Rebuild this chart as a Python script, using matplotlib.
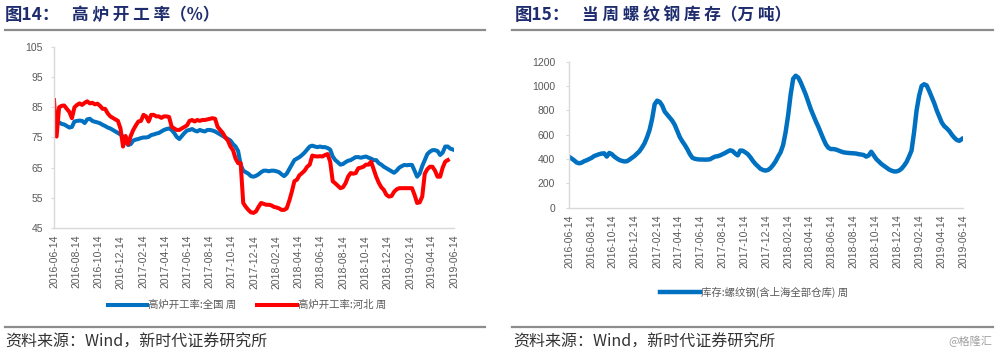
import matplotlib
matplotlib.use("Agg")
import matplotlib.pyplot as plt
from matplotlib.lines import Line2D
import numpy as np
import pandas as pd

plt.rcParams['font.family'] = ['Noto Sans CJK SC', 'DejaVu Sans']

# weekly observations, 2016-06-14 .. 2019-06-11
dates = pd.date_range('2016-06-14', periods=157, freq='7D')

# 高炉开工率:全国 周
rate_national = [
    79.7, 80.0, 80.0, 79.5, 79.3, 78.8, 78.3, 78.5, 80.3, 80.5,
    80.6, 80.5, 79.8, 81.0, 81.2, 80.5, 80.2, 80.0, 79.7, 79.2,
    78.8, 78.3, 78.0, 77.5, 77.0, 76.5, 76.0, 75.3, 73.5, 72.5,
    72.8, 74.0, 74.3, 74.5, 74.8, 75.0, 75.0, 75.2, 75.8, 76.0,
    76.3, 76.5, 77.0, 77.5, 77.8, 78.0, 77.5, 76.5, 75.2, 74.5,
    75.5, 76.5, 77.3, 77.5, 77.8, 77.3, 77.0, 77.5, 77.2, 77.0,
    77.5, 77.5, 77.3, 77.0, 76.5, 76.0, 75.5, 75.0, 74.5, 74.0,
    72.8, 72.0, 70.5, 66.0, 64.0, 63.5, 63.0, 62.2, 62.0, 62.3,
    62.8, 63.5, 64.0, 64.0, 63.8, 64.0, 64.0, 63.8, 63.5, 62.8,
    62.2, 63.0, 64.5, 66.0, 67.5, 68.0, 68.5, 69.2, 70.0, 71.0,
    72.0, 72.3, 72.0, 71.8, 72.0, 71.8, 71.8, 71.5, 71.0, 68.7,
    67.5, 66.8, 66.0, 66.2, 66.8, 67.3, 67.5, 68.0, 68.5, 68.5,
    68.3, 68.5, 68.7, 68.3, 68.0, 67.5, 67.5, 66.5, 66.0, 65.3,
    64.8, 64.3, 63.8, 63.3, 64.0, 65.0, 65.5, 65.9, 65.8, 65.9,
    65.9, 64.0, 62.0, 63.0, 65.5, 67.5, 69.5, 70.3, 70.8, 70.8,
    70.5, 69.2, 70.0, 72.0, 72.0, 71.3, 71.0,
]

# 高炉开工率:河北 周 (last two weeks not yet published)
rate_hebei = [
    87.4, 75.3, 85.0, 85.5, 85.6, 84.5, 83.5, 81.4, 85.0, 85.8,
    86.3, 85.8, 86.5, 87.0, 86.3, 86.5, 86.0, 86.2, 85.5, 84.5,
    84.5, 83.0, 82.0, 81.5, 81.0, 80.5, 78.0, 72.0, 75.5, 72.8,
    75.5, 77.5, 79.0, 80.3, 80.5, 82.5, 82.0, 80.3, 82.5, 82.5,
    82.0, 82.0, 81.5, 82.0, 82.0, 81.8, 78.6, 78.0, 77.5, 77.5,
    78.0, 78.5, 79.0, 80.5, 80.8, 80.3, 80.8, 80.5, 80.8, 80.8,
    81.0, 81.2, 81.4, 81.2, 78.5, 77.5, 76.5, 75.0, 74.0, 72.0,
    70.8, 68.0, 66.5, 66.5, 53.3, 52.0, 51.0, 50.2, 50.0, 50.5,
    52.0, 53.3, 53.0, 52.7, 52.7, 52.5, 52.0, 51.8, 51.5, 51.0,
    51.0, 51.5, 54.0, 57.0, 60.5, 61.0, 62.5, 63.2, 64.0, 65.3,
    66.0, 69.0, 68.8, 68.7, 68.8, 68.7, 69.2, 69.5, 67.0, 60.5,
    59.8, 59.0, 58.2, 58.5, 59.8, 62.0, 63.2, 63.0, 63.2, 64.8,
    65.0, 65.3, 66.0, 66.0, 67.0, 64.5, 62.0, 60.0, 58.5, 57.6,
    56.0, 55.4, 55.6, 57.0, 57.8, 58.2, 58.2, 58.2, 58.2, 58.2,
    58.2, 56.0, 53.3, 53.5, 55.4, 63.0, 64.5, 65.3, 65.3, 64.0,
    62.0, 62.0, 65.0, 67.0, 67.5, np.nan, np.nan,
]

# 库存:螺纹钢(含上海全部仓库) 周, 万吨
rebar_stock = [
    419, 405, 390, 372, 365, 370, 382, 390, 400, 410,
    425, 432, 440, 445, 447, 420, 450, 440, 420, 405,
    392, 385, 380, 382, 395, 410, 425, 445, 465, 495,
    530, 580, 640, 730, 850, 880, 870, 840, 790, 765,
    740, 715, 680, 630, 580, 545, 515, 480, 440, 410,
    402, 398, 396, 396, 395, 396, 398, 410, 420, 423,
    430, 440, 450, 462, 472, 465, 445, 430, 470, 468,
    455, 440, 415, 385, 360, 340, 320, 310, 305, 310,
    325, 350, 380, 420, 455, 515, 620, 760, 930, 1060,
    1085, 1070, 1030, 980, 930, 870, 810, 760, 710, 665,
    615, 565, 520, 492, 482, 482, 478, 470, 462, 455,
    452, 450, 448, 447, 445, 440, 437, 433, 420, 430,
    460, 430, 400, 380, 360, 345, 330, 315, 305, 298,
    298, 305, 320, 345, 375, 420, 470, 620, 800, 920,
    1000, 1015, 1005, 960, 910, 860, 800, 750, 700, 670,
    652, 630, 600, 575, 556, 550, 565,
]

# tick every two months on the 14th
tick_dates = pd.date_range('2016-06-01', '2019-06-01', freq='2MS') + pd.Timedelta(days=13)
tick_labels = [d.strftime('%Y-%m-%d') for d in tick_dates]

BLUE = '#0070C0'
RED = '#FF0000'
AXIS_GRAY = '#D9D9D9'
TEXT_GRAY = '#595959'
TITLE_COLOR = '#1F2D6E'


def style_axes(ax, ypad, xpad):
    for s in ['top', 'right']:
        ax.spines[s].set_visible(False)
    for s in ['left', 'bottom']:
        ax.spines[s].set_color(AXIS_GRAY)
        ax.spines[s].set_linewidth(1.0)
    ax.set_xlim(pd.Timestamp('2016-06-14'), pd.Timestamp('2019-06-14'))
    ax.set_xticks(tick_dates)
    ax.set_xticklabels(tick_labels, rotation=90, fontsize=7.5, color=TEXT_GRAY,
                       family='Liberation Sans')
    ax.tick_params(axis='x', length=0, pad=xpad)
    ax.tick_params(axis='y', length=2, color=AXIS_GRAY, pad=ypad, labelsize=7.5,
                   labelcolor=TEXT_GRAY)
    for t in ax.get_yticklabels():
        t.set_family('Liberation Sans')


fig = plt.figure(figsize=(10, 3.56), dpi=100)

# left: blast furnace utilisation
ax1 = fig.add_axes([0.054, 0.3596, 0.400, 0.5084])
ax1.plot(dates, rate_national, color=BLUE, lw=2.9, label='高炉开工率:全国 周',
         solid_joinstyle='round')
ax1.plot(dates, rate_hebei, color=RED, lw=2.9, label='高炉开工率:河北 周',
         solid_joinstyle='round')
ax1.set_ylim(45, 105)
ax1.set_yticks(np.arange(45, 106, 10))
style_axes(ax1, ypad=6, xpad=5)

# right: rebar inventory
ax2 = fig.add_axes([0.569, 0.4166, 0.394, 0.410])
ax2.plot(dates, rebar_stock, color=BLUE, lw=3.2, label='库存:螺纹钢(含上海全部仓库) 周',
         solid_joinstyle='round')
ax2.set_ylim(0, 1200)
ax2.set_yticks(np.arange(0, 1201, 200))
style_axes(ax2, ypad=8, xpad=5)

fig.legend(*ax1.get_legend_handles_labels(), loc='center', bbox_to_anchor=(0.247, 0.143),
           ncol=2, frameon=False, fontsize=7.5, handlelength=3.8, handletextpad=0.1,
           columnspacing=2.0, labelcolor=TEXT_GRAY)
fig.legend(*ax2.get_legend_handles_labels(), loc='center', bbox_to_anchor=(0.754, 0.18),
           ncol=1, frameon=False, fontsize=7.5, handlelength=3.8, handletextpad=0.1,
           labelcolor=TEXT_GRAY)

# titles
fig.text(0.005, 0.958, '图14：', fontsize=12.5, fontweight='bold', color=TITLE_COLOR, va='center')
fig.text(0.072, 0.958, '高 炉 开 工 率（%）', fontsize=12, fontweight='bold',
         color=TITLE_COLOR, va='center')
fig.text(0.515, 0.958, '图15：', fontsize=12.5, fontweight='bold', color=TITLE_COLOR, va='center')
fig.text(0.582, 0.958, '当 周 螺 纹 钢 库 存（万 吨）', fontsize=12, fontweight='bold',
         color=TITLE_COLOR, va='center')

# separator rules
for x0, x1 in [(0.005, 0.485), (0.512, 0.993)]:
    for y in [1 - 29.5 / 356, 1 - 326.7 / 356]:
        fig.add_artist(Line2D([x0, x1], [y, y], transform=fig.transFigure,
                              color='#8C8C8C', lw=1.6))

# source notes
fig.text(0.005, 1 - 341.7 / 356, '资料来源：Wind，新时代证券研究所', fontsize=11.5,
         color='#333333', va='center')
fig.text(0.513, 1 - 341.7 / 356, '资料来源：Wind，新时代证券研究所', fontsize=11.5,
         color='#333333', va='center')
fig.text(0.992, 1 - 341.7 / 356, '@格隆汇', fontsize=8, color='#A0A0A0',
         va='center', ha='right')

fig.savefig('out.png', dpi=100)
